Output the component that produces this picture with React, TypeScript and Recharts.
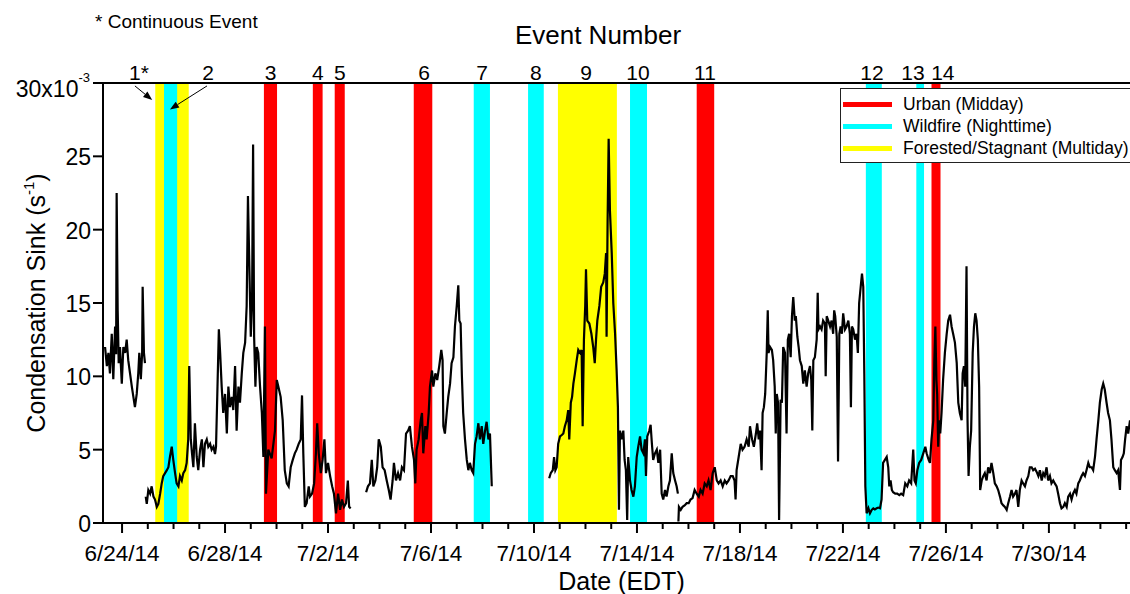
import React from 'react';
import {
  LineChart, Line, XAxis, YAxis, ReferenceArea, ReferenceLine, ReferenceDot, Legend, Customized,
} from 'recharts';

// x = days since 6/24/14 00:00 EDT, y = condensation sink in units of 1e-3 s^-1
const segA: [number, number][] = [
  [-0.66, 12.0], [-0.59, 10.7], [-0.53, 11.6], [-0.47, 10.2], [-0.40, 12.9], [-0.34, 9.8], [-0.27, 13.4],
  [-0.23, 11.5], [-0.21, 22.5], [-0.17, 14.5], [-0.13, 10.9], [-0.08, 12.0], [-0.01, 9.5], [0.05, 12.0],
  [0.12, 11.6], [0.18, 12.5], [0.24, 11.1], [0.31, 10.2], [0.38, 9.3], [0.44, 8.6], [0.50, 7.9], [0.57, 8.8],
  [0.63, 10.2], [0.67, 11.6], [0.73, 9.8], [0.78, 11.6], [0.80, 16.1], [0.85, 11.6], [0.89, 10.9],
];

const segB: [number, number][] = [
  [0.92, 1.8], [0.96, 1.3], [1.02, 2.25], [1.09, 2.0], [1.15, 2.5], [1.22, 1.8], [1.28, 1.6], [1.35, 1.1],
  [1.41, 1.3], [1.48, 2.0], [1.54, 2.7], [1.60, 3.2], [1.67, 3.4], [1.74, 3.6], [1.80, 3.8], [1.86, 4.5],
  [1.93, 5.2], [1.99, 4.3], [2.06, 3.4], [2.12, 2.7], [2.19, 2.5], [2.25, 3.2], [2.32, 2.9], [2.38, 3.4],
  [2.45, 3.6], [2.51, 4.1], [2.57, 5.7], [2.61, 10.7], [2.67, 5.7], [2.72, 4.7], [2.77, 3.8], [2.83, 6.8],
  [2.90, 4.5], [2.96, 3.6], [3.03, 5.0], [3.10, 5.7], [3.16, 3.8], [3.22, 5.4], [3.29, 5.7], [3.35, 5.2],
  [3.42, 5.4], [3.48, 5.0], [3.55, 5.2], [3.61, 4.7], [3.65, 5.2], [3.70, 8.8], [3.76, 13.2], [3.81, 11.6],
  [3.87, 9.3], [3.93, 7.5], [4.00, 8.8], [4.07, 6.1], [4.13, 9.3], [4.19, 7.9], [4.26, 8.6], [4.32, 7.7],
  [4.39, 10.7], [4.45, 6.3], [4.52, 9.3], [4.58, 8.2], [4.65, 10.2], [4.71, 11.6], [4.78, 12.3], [4.84, 14.8],
  [4.89, 22.3], [4.94, 17.9], [5.00, 12.7], [5.05, 15.0], [5.09, 25.8], [5.13, 12.7], [5.18, 9.3], [5.23, 12.0],
  [5.29, 11.6], [5.36, 9.3], [5.43, 7.5], [5.49, 4.5], [5.55, 13.4], [5.59, 2.0], [5.68, 5.0], [5.81, 4.4],
  [5.94, 6.3], [6.01, 9.75], [6.07, 9.3], [6.16, 8.6], [6.24, 7.0], [6.32, 3.6], [6.40, 2.7], [6.47, 2.5],
  [6.55, 3.8], [6.63, 4.3], [6.71, 4.75], [6.78, 5.0], [6.86, 5.4], [6.94, 5.7], [6.99, 8.7], [7.04, 4.75],
  [7.10, 1.1], [7.17, 1.35], [7.25, 2.5], [7.30, 1.8], [7.38, 2.0], [7.46, 2.7], [7.53, 4.75], [7.58, 6.8],
  [7.64, 4.75], [7.72, 3.4], [7.79, 4.3], [7.86, 5.7], [7.92, 3.4], [8.00, 4.1], [8.08, 3.2], [8.16, 2.5],
  [8.23, 2.0], [8.31, 0.65], [8.39, 2.0], [8.47, 0.9], [8.54, 1.6], [8.62, 1.1], [8.70, 1.35], [8.77, 2.9],
  [8.82, 1.1], [8.88, 1.0],
];

const segC: [number, number][] = [
  [9.48, 2.1], [9.55, 2.5], [9.63, 2.7], [9.70, 4.3], [9.76, 2.5], [9.84, 2.9], [9.91, 3.8], [9.97, 5.7],
  [10.05, 5.2], [10.12, 3.8], [10.20, 3.6], [10.28, 2.9], [10.36, 2.25], [10.43, 1.6], [10.51, 2.9], [10.56, 4.1],
  [10.64, 2.9], [10.72, 3.4], [10.80, 2.9], [10.87, 3.8], [10.95, 3.6], [11.03, 6.1], [11.11, 6.3], [11.18, 6.6],
  [11.26, 5.2], [11.34, 4.3], [11.39, 2.7], [11.44, 5.0], [11.52, 5.7], [11.60, 7.0], [11.65, 7.5], [11.70, 4.75],
  [11.78, 6.6], [11.83, 5.7], [11.91, 7.5], [11.96, 9.3], [12.04, 10.4], [12.09, 9.3], [12.17, 10.2], [12.24, 9.75],
  [12.32, 10.7], [12.40, 11.8], [12.45, 11.1], [12.48, 6.6], [12.54, 6.1], [12.61, 7.5], [12.67, 8.6], [12.74, 9.5],
  [12.80, 10.9], [12.87, 11.3], [12.93, 13.4], [13.00, 14.8], [13.06, 16.2], [13.10, 13.8], [13.15, 13.6],
  [13.20, 10.0], [13.25, 7.5], [13.32, 5.7], [13.39, 4.3], [13.45, 3.6], [13.51, 4.1], [13.58, 3.6], [13.64, 3.4],
  [13.71, 5.4], [13.77, 5.9], [13.84, 6.8], [13.90, 5.7], [13.97, 6.6], [14.03, 5.4], [14.10, 6.3], [14.16, 6.9],
  [14.23, 5.7], [14.29, 6.1], [14.36, 2.5],
];

const segD: [number, number][] = [
  [16.59, 3.05], [16.65, 3.4], [16.73, 3.6], [16.78, 4.5], [16.83, 3.6], [16.88, 3.8], [16.94, 5.4], [17.01, 5.9],
  [17.08, 6.0], [17.14, 6.1], [17.20, 6.6], [17.27, 7.0], [17.33, 7.7], [17.37, 5.7], [17.43, 8.2], [17.48, 8.6],
  [17.53, 9.5], [17.59, 10.2], [17.66, 11.1], [17.72, 11.8], [17.79, 11.6], [17.85, 11.8], [17.89, 6.6],
  [17.94, 12.5], [17.99, 14.8], [18.02, 17.3], [18.07, 13.8], [18.15, 13.6], [18.23, 12.9], [18.30, 12.0],
  [18.36, 10.9], [18.41, 12.5], [18.46, 13.8], [18.54, 14.8], [18.61, 16.1], [18.69, 16.4], [18.75, 17.0],
  [18.80, 18.4], [18.82, 12.7], [18.86, 20.7], [18.90, 26.2], [18.95, 21.3], [19.02, 18.4], [19.08, 15.0],
  [19.15, 12.9], [19.21, 10.4], [19.26, 7.9], [19.30, 0.9], [19.34, 6.3], [19.41, 5.7], [19.47, 6.3], [19.52, 4.3],
  [19.57, 3.6], [19.62, 0.2], [19.66, 4.5], [19.73, 2.9], [19.79, 2.25], [19.86, 1.8], [19.92, 2.5], [19.99, 4.5],
  [20.05, 5.2], [20.12, 5.9], [20.18, 5.0], [20.25, 4.75], [20.31, 5.7], [20.35, 3.2], [20.40, 5.9], [20.48, 6.3],
  [20.53, 6.7], [20.58, 5.4], [20.63, 4.3], [20.70, 4.75], [20.77, 5.0], [20.83, 4.1], [20.90, 5.0], [20.96, 2.0],
  [21.02, 1.6], [21.09, 2.25], [21.15, 1.8], [21.22, 2.5], [21.28, 2.9], [21.35, 4.75], [21.41, 3.4], [21.48, 2.9],
  [21.54, 2.5], [21.59, 2.0],
];

const segE: [number, number][] = [
  [21.61, 0.1], [21.63, 1.1], [21.70, 0.9], [21.77, 1.1], [21.85, 1.2], [21.93, 1.35], [22.01, 1.35], [22.08, 1.6],
  [22.16, 1.7], [22.24, 2.25], [22.32, 2.0], [22.40, 1.8], [22.47, 2.25], [22.55, 2.0], [22.63, 2.7], [22.71, 2.5],
  [22.78, 2.9], [22.86, 2.25], [22.94, 3.4], [23.02, 3.8], [23.10, 2.9], [23.17, 2.7], [23.25, 2.9], [23.33, 2.5],
  [23.41, 2.9], [23.48, 2.7], [23.56, 2.9], [23.64, 3.2], [23.72, 3.2], [23.79, 2.9], [23.83, 1.6], [23.87, 3.6],
  [23.95, 4.5], [24.03, 5.4], [24.10, 5.0], [24.18, 5.2], [24.26, 5.7], [24.34, 5.2], [24.39, 6.6], [24.47, 5.7],
  [24.54, 5.2], [24.62, 6.1], [24.67, 6.8], [24.73, 5.7], [24.78, 6.3], [24.84, 3.6], [24.88, 7.5], [24.93, 7.9],
  [24.98, 8.8], [25.04, 11.6], [25.08, 14.5], [25.11, 11.6], [25.17, 12.0], [25.24, 11.8], [25.29, 11.1],
  [25.35, 9.3], [25.39, 6.1], [25.43, 8.8], [25.48, 8.2], [25.52, 0.2], [25.58, 8.4], [25.63, 8.2], [25.68, 12.0],
  [25.75, 11.6], [25.81, 6.1], [25.86, 12.5], [25.91, 12.9], [25.97, 11.3], [26.02, 14.1], [26.07, 15.4],
  [26.13, 13.8], [26.17, 14.1], [26.23, 12.7], [26.28, 12.0], [26.33, 11.1], [26.40, 10.7], [26.46, 9.5],
  [26.52, 10.4], [26.59, 9.3], [26.65, 10.2], [26.72, 10.7], [26.77, 9.75], [26.81, 6.3], [26.85, 11.1],
  [26.91, 11.3], [26.98, 12.5], [27.02, 15.7], [27.05, 13.2], [27.11, 13.4], [27.17, 13.2], [27.23, 13.8],
  [27.30, 13.6], [27.33, 10.0], [27.37, 14.1], [27.43, 13.8], [27.50, 13.4], [27.56, 13.8], [27.62, 12.9],
  [27.66, 14.5], [27.70, 14.1], [27.76, 12.7], [27.81, 4.2], [27.86, 12.9], [27.91, 13.4], [27.96, 12.9],
  [28.01, 14.3], [28.08, 13.2], [28.14, 13.4], [28.21, 13.8], [28.27, 12.9], [28.31, 7.9], [28.35, 13.4],
  [28.40, 13.2], [28.47, 12.5], [28.53, 12.9], [28.58, 11.6], [28.63, 15.0], [28.69, 16.1], [28.74, 17.0],
  [28.79, 16.1], [28.83, 10.2], [28.87, 2.5], [28.92, 0.66], [28.99, 1.0], [29.05, 0.66], [29.12, 0.9],
  [29.18, 1.0], [29.24, 0.93], [29.31, 1.0], [29.37, 1.05], [29.44, 1.0], [29.50, 1.6], [29.56, 4.1], [29.63, 4.3],
  [29.70, 4.5], [29.76, 3.8], [29.80, 2.5], [29.85, 2.9], [29.90, 2.25], [29.95, 2.1], [30.03, 2.0], [30.11, 2.0],
  [30.19, 1.9], [30.26, 2.0], [30.34, 1.9], [30.42, 2.7], [30.50, 2.5], [30.57, 2.9], [30.65, 2.7], [30.73, 5.0],
  [30.78, 2.9], [30.83, 2.7], [30.89, 3.6], [30.96, 4.1], [31.04, 4.3], [31.12, 4.75], [31.20, 5.2], [31.25, 4.75],
  [31.33, 4.3], [31.38, 4.1], [31.44, 5.7], [31.51, 7.0], [31.55, 11.1], [31.59, 13.4], [31.63, 9.75], [31.66, 8.8],
  [31.70, 5.2], [31.74, 7.0], [31.78, 6.1], [31.83, 7.5], [31.89, 9.75], [31.96, 11.6], [32.03, 12.9], [32.09, 13.8],
  [32.16, 14.2], [32.22, 13.4], [32.28, 12.9], [32.35, 12.3], [32.42, 10.9], [32.48, 8.2], [32.54, 7.5], [32.61, 7.0],
  [32.65, 10.2], [32.70, 10.7], [32.75, 9.3], [32.80, 17.5], [32.84, 7.0], [32.88, 3.2], [32.93, 5.2], [32.98, 6.3],
  [33.04, 11.6], [33.09, 13.4], [33.14, 14.3], [33.19, 13.8], [33.24, 12.5], [33.29, 9.3], [33.33, 2.25],
  [33.39, 2.9], [33.45, 3.2], [33.51, 3.4], [33.58, 2.9], [33.64, 3.8], [33.71, 3.4], [33.77, 4.1], [33.84, 3.4],
  [33.90, 2.7], [33.97, 2.5], [34.03, 2.25], [34.10, 1.8], [34.16, 1.35], [34.23, 1.2], [34.29, 1.1], [34.36, 0.9],
  [34.42, 1.35], [34.49, 1.8], [34.55, 2.25], [34.61, 1.8], [34.68, 2.0], [34.74, 2.25], [34.81, 1.1], [34.87, 2.25],
  [34.94, 2.9], [35.00, 2.7], [35.07, 2.5], [35.13, 2.9], [35.20, 3.2], [35.26, 3.8], [35.33, 3.8], [35.39, 3.6],
  [35.46, 3.7], [35.52, 3.5], [35.59, 3.2], [35.65, 3.6], [35.72, 2.9], [35.78, 3.4], [35.84, 3.2], [35.91, 3.8],
  [35.97, 2.9], [36.04, 3.2], [36.10, 2.7], [36.17, 2.9], [36.23, 2.7], [36.30, 2.5], [36.36, 2.0], [36.43, 1.35],
  [36.49, 1.0], [36.56, 1.1], [36.62, 1.35], [36.69, 1.1], [36.75, 1.8], [36.82, 2.0], [36.88, 1.6], [36.94, 2.0],
  [37.01, 2.25], [37.07, 2.0], [37.14, 2.7], [37.20, 2.9], [37.27, 3.2], [37.33, 3.4], [37.40, 3.2], [37.46, 3.6],
  [37.53, 4.1], [37.59, 3.8], [37.66, 3.8], [37.72, 3.6], [37.79, 4.5], [37.85, 5.7], [37.92, 7.0], [37.98, 8.2],
  [38.05, 9.1], [38.11, 9.5], [38.17, 9.1], [38.24, 8.2], [38.30, 7.5], [38.37, 7.0], [38.43, 5.7], [38.50, 3.8],
  [38.56, 3.6], [38.63, 3.4], [38.69, 3.6], [38.76, 2.25], [38.80, 4.3], [38.86, 4.5], [38.91, 4.75], [38.96, 5.7],
  [39.02, 6.6], [39.08, 6.1], [39.15, 7.0],
];

const segments = [segA, segB, segC, segD, segE];

// event windows (days since 6/24/14)
type Source = 'urban' | 'wildfire' | 'forested';
const events: { id: string; source: Source; start: number; end: number; labelAt: number }[] = [
  { id: '1*', source: 'forested', start: 1.29, end: 2.59, labelAt: 0.66 },
  { id: '2', source: 'wildfire', start: 1.63, end: 2.14, labelAt: 3.34 },
  { id: '3', source: 'urban', start: 5.51, end: 6.02, labelAt: 5.77 },
  { id: '4', source: 'urban', start: 7.41, end: 7.79, labelAt: 7.6 },
  { id: '5', source: 'urban', start: 8.26, end: 8.65, labelAt: 8.46 },
  { id: '6', source: 'urban', start: 11.33, end: 12.05, labelAt: 11.73 },
  { id: '7', source: 'wildfire', start: 13.66, end: 14.29, labelAt: 13.98 },
  { id: '8', source: 'wildfire', start: 15.77, end: 16.38, labelAt: 16.07 },
  { id: '9', source: 'forested', start: 16.93, end: 19.22, labelAt: 18.02 },
  { id: '10', source: 'wildfire', start: 19.73, end: 20.39, labelAt: 20.04 },
  { id: '11', source: 'urban', start: 22.32, end: 23.0, labelAt: 22.64 },
  { id: '12', source: 'wildfire', start: 28.89, end: 29.51, labelAt: 29.13 },
  { id: '13', source: 'wildfire', start: 30.85, end: 31.15, labelAt: 30.72 },
  { id: '14', source: 'urban', start: 31.44, end: 31.79, labelAt: 31.88 },
];

const sourceColors: Record<Source, string> = {
  urban: '#ff0000',
  wildfire: '#00ffff',
  forested: '#ffff00',
};

const legendItems: { source: Source; label: string }[] = [
  { source: 'urban', label: 'Urban (Midday)' },
  { source: 'wildfire', label: 'Wildfire (Nighttime)' },
  { source: 'forested', label: 'Forested/Stagnant (Multiday)' },
];

// arrows from the "1*" and "2" labels down to their bands
const arrows = [
  [{ x: 0.5, y: 29.8 }, { x: 1.17, y: 28.84 }],
  [{ x: 3.3, y: 29.8 }, { x: 1.86, y: 28.2 }],
];

const dayTicks = Array.from({ length: 40 }, (_, i) => i);
const majorTickDays = [0, 4, 8, 12, 16, 20, 24, 28, 32, 36];
const xTickLabels = ['6/24/14', '6/28/14', '7/2/14', '7/6/14', '7/10/14', '7/14/14', '7/18/14', '7/22/14', '7/26/14', '7/30/14'];
const yTicks = [0, 5, 10, 15, 20, 25, 30];

const FONT = "'Liberation Sans', Arial, Helvetica, sans-serif";

// one table, with a null row between segments so the line breaks at data gaps
const data = segments.flatMap((seg, i) => {
  const rows: { day: number; cs: number | null }[] = seg.map(([day, cs]) => ({ day, cs }));
  if (i < segments.length - 1) {
    rows.push({ day: (seg[seg.length - 1][0] + segments[i + 1][0][0]) / 2, cs: null });
  }
  return rows;
});

const DateTick = (props: any) => {
  const { x, y, payload } = props;
  const idx = majorTickDays.indexOf(payload.value);
  return (
    <g>
      <line x1={x} x2={x} y1={y} y2={y + (idx >= 0 ? 10 : 6)} stroke="#000" strokeWidth={2} />
      {idx >= 0 && (
        <text x={x} y={y + 38} textAnchor="middle" fontSize={22.5} fill="#000">{xTickLabels[idx]}</text>
      )}
    </g>
  );
};

const SinkTick = (props: any) => {
  const { x, y, payload } = props;
  const v = payload.value;
  return (
    <g>
      <line x1={x - 10} x2={x} y1={y} y2={y} stroke="#000" strokeWidth={2} />
      {v === 30 ? (
        <text x={x - 13} y={y + 14} textAnchor="end" fontSize={23} fill="#000">
          30x10<tspan dy={-15} fontSize={13}>-3</tspan>
        </text>
      ) : (
        <text x={x - 12} y={y + 9} textAnchor="end" fontSize={23} fill="#000">{v}</text>
      )}
    </g>
  );
};

const YLabel = (props: any) => {
  const vb = props.viewBox || { x: 0, y: 83, width: 103, height: 440 };
  const cx = vb.x + 45;
  const cy = vb.y + vb.height / 2;
  return (
    <text x={cx} y={cy} transform={`rotate(-90, ${cx}, ${cy})`} textAnchor="middle" fontSize={25} fill="#000">
      Condensation Sink (s<tspan dy={-11} fontSize={15}>-1</tspan><tspan dy={11}>)</tspan>
    </text>
  );
};

const Arrow = (p: any) => {
  const { x1, y1, x2, y2 } = p;
  const a = Math.atan2(y2 - y1, x2 - x1);
  const len = 9;
  const w = 3.5;
  const bx = x2 - len * Math.cos(a);
  const by = y2 - len * Math.sin(a);
  const pts = `${x2},${y2} ${bx - w * Math.sin(a)},${by + w * Math.cos(a)} ${bx + w * Math.sin(a)},${by - w * Math.cos(a)}`;
  return (
    <g>
      <line x1={x1} y1={y1} x2={bx} y2={by} stroke="#000" strokeWidth={1} />
      <polygon points={pts} fill="#000" />
    </g>
  );
};

const Titles = () => (
  <g fill="#000">
    <text x={95} y={28} fontSize={19}>* Continuous Event</text>
    <text x={598} y={44} fontSize={26} textAnchor="middle">Event Number</text>
  </g>
);

const LegendBox = () => (
  <div
    style={{
      width: 300, height: 75, boxSizing: 'border-box', border: '1px solid #222', background: '#fff',
      paddingTop: 4, fontFamily: FONT, fontSize: 17.5, color: '#000',
    }}
  >
    {legendItems.map((it) => (
      <div key={it.source} style={{ display: 'flex', alignItems: 'center', height: 22, whiteSpace: 'nowrap' }}>
        <div style={{ width: 49, height: 5, marginLeft: 2, marginRight: 11, background: sourceColors[it.source] }} />
        <span>{it.label}</span>
      </div>
    ))}
  </div>
);

const App: React.FC = () => (
  <div style={{ position: 'absolute', left: 0, top: 0, width: 1130, height: 594, overflow: 'hidden', background: '#fff', fontFamily: FONT }}>
    <LineChart width={1130} height={594} data={data} margin={{ top: 83, right: 0, bottom: 0, left: 0 }}>
      {events.map((e) => (
        <ReferenceArea
          key={`band-${e.id}`}
          x1={e.start}
          x2={e.end}
          y1={0}
          y2={30}
          fill={sourceColors[e.source]}
          fillOpacity={1}
          stroke="none"
        />
      ))}
      <XAxis
        dataKey="day"
        type="number"
        domain={[-0.74, 39.15]}
        allowDataOverflow
        ticks={dayTicks}
        interval={0}
        tickSize={0}
        tickMargin={0}
        tickLine={false}
        tick={<DateTick />}
        height={71}
        axisLine={{ stroke: '#000', strokeWidth: 2 }}
        label={{ value: 'Date (EDT)', position: 'insideBottom', offset: 4, dx: 5, fontSize: 25, fill: '#000' }}
      />
      <YAxis
        type="number"
        domain={[0, 30]}
        ticks={yTicks}
        interval={0}
        width={103}
        tickSize={0}
        tickMargin={0}
        tickLine={false}
        tick={<SinkTick />}
        axisLine={{ stroke: '#000', strokeWidth: 2 }}
        label={<YLabel />}
      />
      <ReferenceLine y={30} stroke="#000" strokeWidth={2} />
      <Line
        type="linear"
        dataKey="cs"
        stroke="#000"
        strokeWidth={2.2}
        dot={false}
        connectNulls={false}
        isAnimationActive={false}
      />
      {arrows.map((seg, i) => (
        <ReferenceLine key={`arrow-${i}`} segment={seg} shape={Arrow} />
      ))}
      {events.map((e) => (
        <ReferenceDot
          key={`lbl-${e.id}`}
          x={e.labelAt}
          y={30}
          r={0}
          fill="none"
          stroke="none"
          label={{ value: e.id, position: 'top', offset: 3, fontSize: 21, fill: '#000' }}
        />
      ))}
      <Customized component={<Titles />} />
      <Legend
        layout="vertical"
        align="center"
        verticalAlign="middle"
        content={<LegendBox />}
        wrapperStyle={{ left: 840, top: 88, width: 300, height: 75 }}
      />
    </LineChart>
  </div>
);

export default App;
